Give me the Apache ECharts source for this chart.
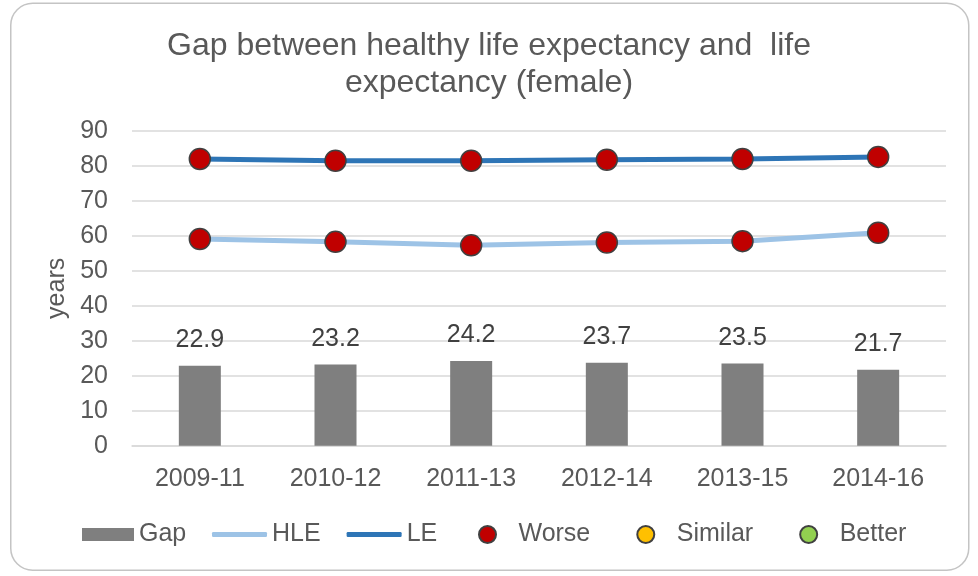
<!DOCTYPE html>
<html>
<head>
<meta charset="utf-8">
<script src="https://cdn.jsdelivr.net/npm/echarts@6/dist/echarts.min.js"></script>
<style>html,body{margin:0;padding:0;background:#fff;}#c{width:978px;height:576px;}</style>
</head>
<body>
<div id="c"></div>
<script>
var categories = ['2009-11', '2010-12', '2011-13', '2012-14', '2013-15', '2014-16'];
var gap = [22.9, 23.2, 24.2, 23.7, 23.5, 21.7];
var hle = [59.1, 58.3, 57.3, 58.1, 58.5, 60.9];
var le = [82.0, 81.5, 81.5, 81.8, 82.0, 82.6];
var yTicks = [0, 10, 20, 30, 40, 50, 60, 70, 80, 90];

var worsePts = [];
for (var i = 0; i < categories.length; i++) {
  worsePts.push([i, le[i]]);
  worsePts.push([i, hle[i]]);
}

var FONT = 'Liberation Sans, Arial, sans-serif';
var chart = echarts.init(document.getElementById('c'));
var markerStyle = function (c) { return { color: c, borderColor: '#404040', borderWidth: 1.5, opacity: 1 }; };

chart.setOption({
  animation: false,
  graphic: [{
    type: 'rect', left: 10, top: 2.5, z: -10,
    shape: { width: 958, height: 567, r: 22 },
    style: { fill: '#fff', stroke: '#c4c4c4', lineWidth: 1.5 }
  }],
  title: {
    text: 'Gap between healthy life expectancy and  life\nexpectancy (female)',
    left: 'center', top: 28, padding: 0,
    textStyle: { fontFamily: FONT, fontSize: 32, fontWeight: 'normal', color: '#595959', lineHeight: 37 }
  },
  grid: { left: 132, right: 32, top: 131, bottom: 130.3, containLabel: false },
  xAxis: {
    type: 'category', data: categories,
    axisLine: { lineStyle: { color: '#d9d9d9', width: 1.5 } },
    axisTick: { show: false },
    axisLabel: { fontFamily: FONT, fontSize: 25, color: '#595959', margin: 21 }
  },
  yAxis: {
    type: 'value', min: yTicks[0], max: yTicks[yTicks.length - 1], interval: 10,
    name: 'years', nameLocation: 'middle', nameGap: 55,
    nameTextStyle: { fontFamily: FONT, fontSize: 25, color: '#595959' },
    axisLine: { show: false }, axisTick: { show: false },
    splitLine: { lineStyle: { color: '#d9d9d9', width: 1.5 } },
    axisLabel: { fontFamily: FONT, fontSize: 25, color: '#595959', margin: 24 }
  },
  legend: [
    { data: ['Gap'], left: 82, top: 522, icon: 'rect', itemWidth: 52, itemHeight: 13, padding: 0,
      textStyle: { fontFamily: FONT, fontSize: 25, color: '#595959' } },
    { data: ['HLE', 'LE'], left: 212, top: 522, icon: 'roundRect', itemWidth: 55, itemHeight: 5, itemGap: 26, padding: 0,
      textStyle: { fontFamily: FONT, fontSize: 25, color: '#595959' } },
    { data: [{ name: 'Worse', icon: 'circle' }, { name: 'Similar', icon: 'circle' }, { name: 'Better', icon: 'circle' }],
      left: 478, top: 522, itemWidth: 52, itemHeight: 17, itemGap: 46, padding: 0,
      textStyle: { fontFamily: FONT, fontSize: 25, color: '#595959' } }
  ],
  series: [
    { name: 'Gap', type: 'bar', data: gap, barWidth: 42,
      itemStyle: { color: '#7f7f7f' },
      label: { show: true, position: 'top', distance: 13, fontFamily: FONT, fontSize: 25, color: '#404040' } },
    { name: 'HLE', type: 'line', data: hle, showSymbol: false, symbol: 'none',
      lineStyle: { color: '#9dc3e6', width: 5 }, itemStyle: { color: '#9dc3e6' }, z: 3 },
    { name: 'LE', type: 'line', data: le, showSymbol: false, symbol: 'none',
      lineStyle: { color: '#2e75b6', width: 5 }, itemStyle: { color: '#2e75b6' }, z: 3 },
    { name: 'Worse', type: 'scatter', data: worsePts, symbolSize: 21, itemStyle: markerStyle('#c00000'), z: 5 },
    { name: 'Similar', type: 'scatter', data: [], symbolSize: 21, itemStyle: markerStyle('#ffc000'), z: 5 },
    { name: 'Better', type: 'scatter', data: [], symbolSize: 21, itemStyle: markerStyle('#92d050'), z: 5 }
  ]
});
</script>
</body>
</html>
